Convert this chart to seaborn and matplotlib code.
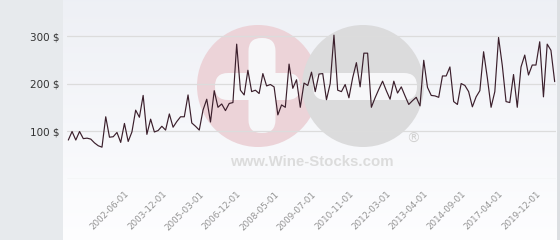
import numpy as np
import pandas as pd
import matplotlib
matplotlib.use("Agg")
import matplotlib.pyplot as plt
import seaborn as sns
from matplotlib.patches import Circle, FancyBboxPatch

# ---- data ----
values = [81, 99, 81, 99, 84, 85, 83, 75, 69, 66,
          130, 87, 88, 97, 76, 116, 78, 98, 144, 129,
          175, 93, 125, 98, 101, 110, 102, 136, 108, 120,
          130, 130, 176, 117, 110, 102, 144, 167, 119, 185,
          150, 157, 143, 158, 160, 283, 186, 176, 228, 183,
          186, 179, 221, 195, 198, 193, 134, 155, 150, 241,
          190, 208, 150, 201, 196, 224, 183, 220, 221, 166,
          200, 302, 186, 183, 198, 170, 212, 244, 193, 264,
          264, 150, 170, 188, 205, 185, 167, 205, 180, 193,
          174, 156, 164, 171, 153, 249, 192, 175, 174, 171,
          216, 216, 235, 162, 156, 200, 196, 183, 151, 172,
          185, 267, 212, 150, 183, 297, 238, 162, 160, 219,
          150, 235, 260, 218, 239, 239, 288, 172, 283, 270,
          204]
tick_positions = [15, 25, 35, 45, 55, 65, 75, 85, 95, 105, 115, 125]
tick_labels = ["2002-06-01", "2003-12-01", "2005-03-01", "2006-12-01",
               "2008-05-01", "2009-07-01", "2010-11-01", "2012-03-01",
               "2013-04-01", "2014-09-01", "2017-04-01", "2019-12-01"]
y_ticks = [100, 200, 300]
y_tick_labels = ["100 $", "200 $", "300 $"]

df = pd.DataFrame({"idx": np.arange(len(values)), "price": values})

sns.set_theme(style="white")
plt.rcParams["font.family"] = ["DejaVu Sans"]

W, H = 560, 240
fig = plt.figure(figsize=(W / 100, H / 100), dpi=100, facecolor="#e7eaed")

# plot panel background (light gradient)
bg = fig.add_axes([63 / W, 0, 494 / W, 1], zorder=0)
grad = np.linspace(0, 1, 256).reshape(-1, 1)
top = np.array([0.933, 0.941, 0.961])
bot = np.array([0.995, 0.995, 1.0])
img = top[None, None, :] * (1 - grad[..., None]) + bot[None, None, :] * grad[..., None]
bg.imshow(img, aspect="auto", extent=[0, 1, 0, 1], origin="upper")
bg.axis("off")

# watermark (pixel coordinates)
wm = fig.add_axes([0, 0, 1, 1], zorder=1)
wm.set_xlim(0, W)
wm.set_ylim(H, 0)
wm.axis("off")
wm.patch.set_alpha(0)
wm.add_patch(Circle((258, 86), 61, facecolor="#ecd3d8", edgecolor="none"))
wm.add_patch(FancyBboxPatch((215, 73), 85, 27, boxstyle="round,pad=0,rounding_size=13",
                            facecolor="#f7f7f9", edgecolor="none"))
wm.add_patch(FancyBboxPatch((248.5, 38), 27, 95, boxstyle="round,pad=0,rounding_size=13",
                            facecolor="#f7f7f9", edgecolor="none"))
wm.add_patch(Circle((363, 86), 61, facecolor="#dbdbdc", edgecolor="none"))
wm.add_patch(FancyBboxPatch((313, 73), 104, 27, boxstyle="round,pad=0,rounding_size=13",
                            facecolor="#f7f7f9", edgecolor="none"))
wm.text(413, 139, "®", ha="center", va="center", fontsize=10, color="#d2d2d2")
wm.text(312, 161.5, "www.Wine-Stocks.com", ha="center", va="center", fontsize=10.8,
        fontweight="bold", color="#dcdcdc", family=["Liberation Sans", "DejaVu Sans"])

# right border
fig.add_artist(plt.Rectangle((557 / W, 0), 3 / W, 1, transform=fig.transFigure,
                             facecolor="#dcdfe2", edgecolor="none", zorder=0.5))

# main axes
ax = fig.add_axes([67.2 / W, (H - 178.5) / H, 488.6 / W, 178.5 / H], zorder=2)
ax.patch.set_alpha(0)
sns.lineplot(data=df, x="idx", y="price", ax=ax, color="#3b1f2c", linewidth=0.85)
ax.set_xlim(-0.3, len(values) - 1 + 0.3)
ax.set_ylim(0, 376)
for v in [0] + y_ticks:
    ax.axhline(v, color="#dcdcdc", linewidth=0.9, zorder=0)
for s in ax.spines.values():
    s.set_visible(False)
ax.set_yticks(y_ticks)
ax.set_yticklabels(y_tick_labels, fontsize=7.5, color="#333333")
ax.tick_params(axis="y", length=0, pad=5.8)
ax.set_xticks(tick_positions)
ax.set_xticklabels(tick_labels, rotation=45, ha="right", rotation_mode="anchor",
                   fontsize=6.3, color="#939393")
ax.tick_params(axis="x", length=0, pad=8)
ax.set_xlabel("")
ax.set_ylabel("")
ax.grid(False)

fig.savefig("out.png", dpi=100, facecolor=fig.get_facecolor())
